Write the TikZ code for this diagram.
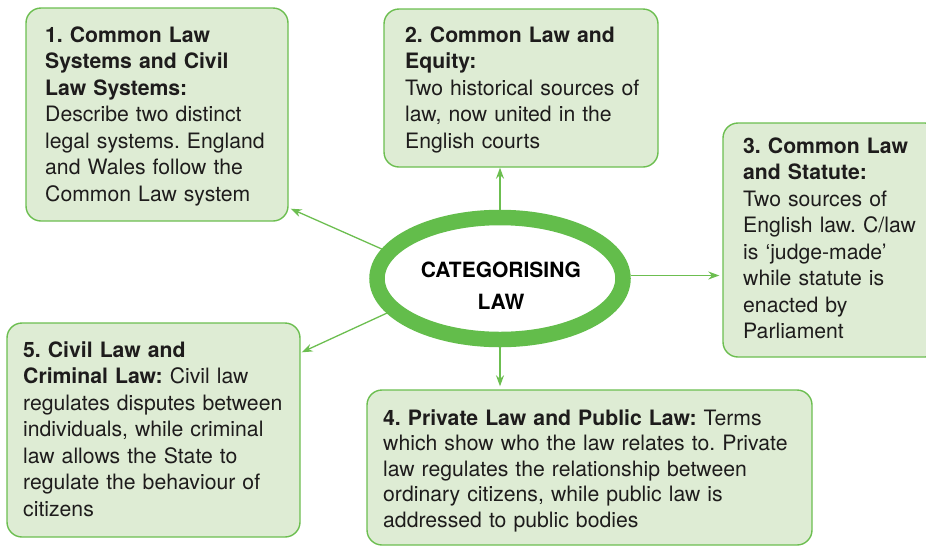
\documentclass[tikz,border=0pt]{standalone}
\usepackage{fontspec}
\setmainfont{TeX Gyre Heros}
\usetikzlibrary{arrows.meta,shapes.geometric,calc}
\definecolor{boxfill}{RGB}{222,236,212}
\definecolor{boxline}{RGB}{108,190,80}
\definecolor{ellgreen}{RGB}{99,189,75}
\definecolor{bodytext}{RGB}{30,28,28}
\frenchspacing
\tikzset{
  box/.style={draw=boxline, line width=1.4pt, fill=boxfill, rounded corners=15pt, rectangle, inner sep=0pt},
  txt/.style={anchor=base west, inner sep=0pt, text width=500pt, align=left, text=bodytext, font=\fontsize{21.2}{26.5}\selectfont},
  arr/.style={draw=boxline, line width=1.3pt, -{Stealth[length=11pt,width=8pt]}},
}
\begin{document}
\begin{tikzpicture}[x=1pt,y=-1pt]
\useasboundingbox (0,0) rectangle (926,547);
\clip (0,0) rectangle (926,547);
% boxes
\node[box, minimum width=262pt, minimum height=213pt] (b1) at (157,114.5) {};
\node[box, minimum width=274pt, minimum height=158pt] (b2) at (521,88) {};
\node[box, minimum width=217pt, minimum height=234pt] (b3) at (831.5,240) {};
\node[box, minimum width=445pt, minimum height=155pt] (b4) at (589.5,467.5) {};
\node[box, minimum width=293pt, minimum height=214pt] (b5) at (153.5,430) {};
% texts
\node[txt] (t1) at (45,42) {\textbf{1. Common Law}\\\textbf{Systems and Civil}\\\textbf{Law Systems:}\\Describe two distinct\\legal systems. England\\and Wales follow the\\Common Law system};
\node[txt] (t2) at (405,42) {\textbf{2. Common Law and}\\\textbf{Equity:}\\Two historical sources of\\law, now united in the\\English courts};
\node[txt] (t3) at (743,153) {\textbf{3. Common Law}\\\textbf{and Statute:}\\Two sources of\\English law. C/law\\is ‘judge-made’\\while statute is\\enacted by\\Parliament};
\node[txt, font=\fontsize{21.2}{25.5}\selectfont] (t4) at (383,425) {\textbf{4. Private Law and Public Law:} Terms\\which show who the law relates to. Private\\law regulates the relationship between\\ordinary citizens, while public law is\\addressed to public bodies};
\node[txt] (t5) at (23,357) {\textbf{5. Civil Law and}\\\textbf{Criminal Law:} Civil law\\regulates disputes between\\individuals, while criminal\\law allows the State to\\regulate the behaviour of\\citizens};
% central ellipse
\node[ellipse, draw=ellgreen, line width=15.5pt, fill=white, minimum width=246pt, minimum height=122pt, inner sep=0pt] (ell) at (500,278.5) {};
\node[anchor=base, inner sep=0pt, text width=220pt, align=center, font=\fontsize{21}{32}\selectfont\bfseries] (title) at (501,277) {CATEGORISING\\LAW};
% connectors
\draw[arr] (ell.166) -- ($(b1.south east)+(2,-13)$);
\draw[arr] (ell.north) -- (ell.north |- b2.south);
\draw[arr, shorten >=3pt] ([yshift=3pt]ell.east) -- ([yshift=3pt]ell.east -| b3.west);
\draw[arr, shorten >=3pt] (ell.south) -- (ell.south |- b4.north);
\draw[arr] (ell.197) -- ($(b5.north east)+(1,30)$);
\end{tikzpicture}
\end{document}
